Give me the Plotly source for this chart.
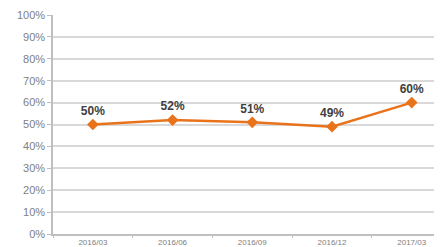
import plotly.graph_objects as go

categories = ["2016/03", "2016/06", "2016/09", "2016/12", "2017/03"]
values = [50, 52, 51, 49, 60]
labels = ["50%", "52%", "51%", "49%", "60%"]
y_ticks = [0, 10, 20, 30, 40, 50, 60, 70, 80, 90, 100]
y_tick_text = ["0%", "10%", "20%", "30%", "40%", "50%", "60%", "70%", "80%", "90%", "100%"]

fig = go.Figure()
fig.add_trace(go.Scatter(
    x=categories, y=values, mode="lines+markers+text",
    text=["<b>%s</b>" % t for t in labels], textposition="top center",
    textfont=dict(family="Liberation Sans, Arial", size=12, color="#404040"),
    line=dict(color="#E8731A", width=2.5),
    marker=dict(symbol="diamond", size=9, color="#E8731A"),
    cliponaxis=False,
))
fig.update_layout(
    width=434, height=239,
    margin=dict(l=45, r=0, t=7, b=13, autoexpand=False),
    paper_bgcolor="white", plot_bgcolor="white",
    showlegend=False,
    font=dict(family="Liberation Sans, Arial", size=10, color="#808080"),
)
fig.update_xaxes(
    type="category", range=[-0.5, 4.38], automargin=False,
    tickson="boundaries", ticks="outside", ticklen=2, tickcolor="#bfbfbf",
    showline=True, linecolor="#bfbfbf", linewidth=1.5,
    showgrid=False, tickfont=dict(size=8, color="#808080"),
)
fig.update_yaxes(
    range=[0, 100], tickvals=y_ticks, ticktext=y_tick_text, automargin=False,
    ticks="outside", ticklen=4, tickcolor="#bfbfbf",
    showline=True, linecolor="#bfbfbf", linewidth=1.5,
    showgrid=True, gridcolor="#d9d9d9", gridwidth=1.5,
    zeroline=False, tickfont=dict(size=11, color="#808080"),
)
fig.write_html("out.html")
